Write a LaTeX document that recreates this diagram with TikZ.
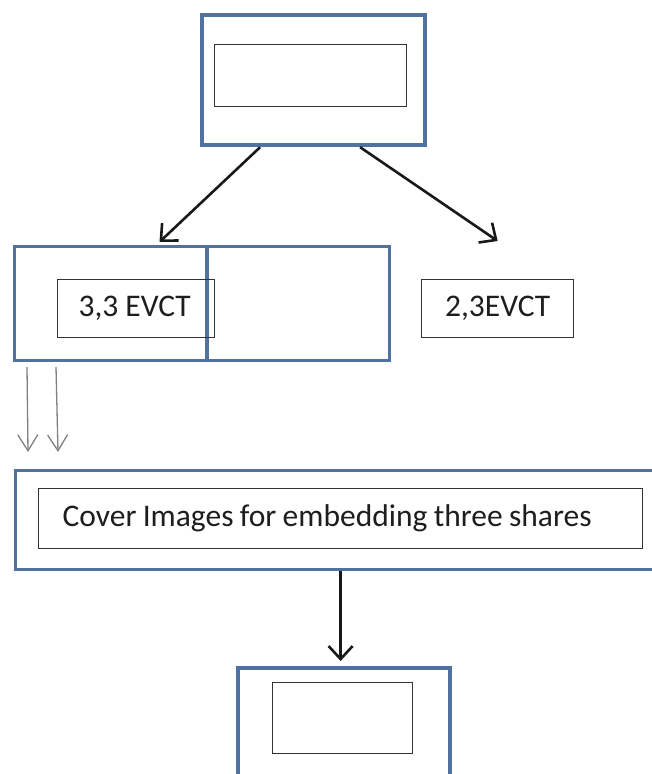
\documentclass[tikz,border=0pt]{standalone}
\usepackage{fontspec}
\setmainfont{Carlito}
\usetikzlibrary{arrows.meta}
\definecolor{frameblue}{RGB}{79,114,160}
\definecolor{txt}{RGB}{30,30,30}
\tikzset{
  outerbox/.style={draw=frameblue, line width=#1, rectangle, inner sep=0pt, anchor=north west},
  innerbox/.style={draw=black!80, line width=1.3pt, rectangle, inner sep=0pt, anchor=north west,
     font=\fontsize{31.5}{36}\selectfont, text=txt},
  blackarrow/.style={draw=black!90, line width=2.6pt, -{Straight Barb[length=13pt,width=24pt,line width=2.6pt]}},
  grayarrow/.style={draw=black!50, line width=1.3pt, -{Straight Barb[length=16pt,width=20pt,line width=1.3pt]}}
}
\begin{document}
\begin{tikzpicture}[x=1pt,y=-1pt]
\useasboundingbox (0,0) rectangle (652,774);
\clip (0,0) rectangle (652,774);
% top
\node[outerbox=4.2pt, minimum width=223pt, minimum height=130pt] (top) at (200,13) {};
\node[innerbox, minimum width=192pt, minimum height=62pt] (topin) at (214,44) {};
% left wide box
\node[outerbox=3pt, minimum width=375pt, minimum height=114pt] (left) at (13,245) {};
\coordinate (divtop) at (207,245);
\coordinate (divbot) at (207,359);
\draw[frameblue, line width=4pt] (divtop) -- (divbot);
\node[innerbox, minimum width=157pt, minimum height=58pt] (b33) at (57,279) {\hspace*{-3pt}3,3 EVCT};
% right small box
\node[innerbox, minimum width=152pt, minimum height=58pt] (b23) at (421,279) {2,3EVCT};
% cover box
\node[outerbox=3.2pt, minimum width=650pt, minimum height=99pt] (cover) at (14,469) {};
\node[innerbox, minimum width=604pt, minimum height=60pt, text width=556pt, align=left] (coverin) at (38,488) {\spaceskip=0.2em plus 0.1em minus 0.1em Cover Images for embedding three shares};
% bottom box
\node[outerbox=3.8pt, minimum width=212pt, minimum height=140pt] (bot) at (236,666) {};
\node[innerbox, minimum width=140pt, minimum height=71pt] (botin) at (272,682) {};
% connectors
\draw[blackarrow] ([xshift=-53.5pt]top.south) -- ([xshift=-42.5pt,yshift=3pt]left.north);
\draw[blackarrow] ([xshift=46.5pt]top.south) -- ([yshift=38pt]b23.north);
\draw[grayarrow] ([xshift=14pt,yshift=-5pt]left.south west) -- ([xshift=14pt,yshift=17pt]cover.north west);
\draw[grayarrow] ([xshift=43pt,yshift=-5pt]left.south west) -- ([xshift=44pt,yshift=17pt]cover.north west);
\draw[blackarrow] (cover.south) -- ([yshift=5pt]cover.south |- bot.north);
\end{tikzpicture}
\end{document}
